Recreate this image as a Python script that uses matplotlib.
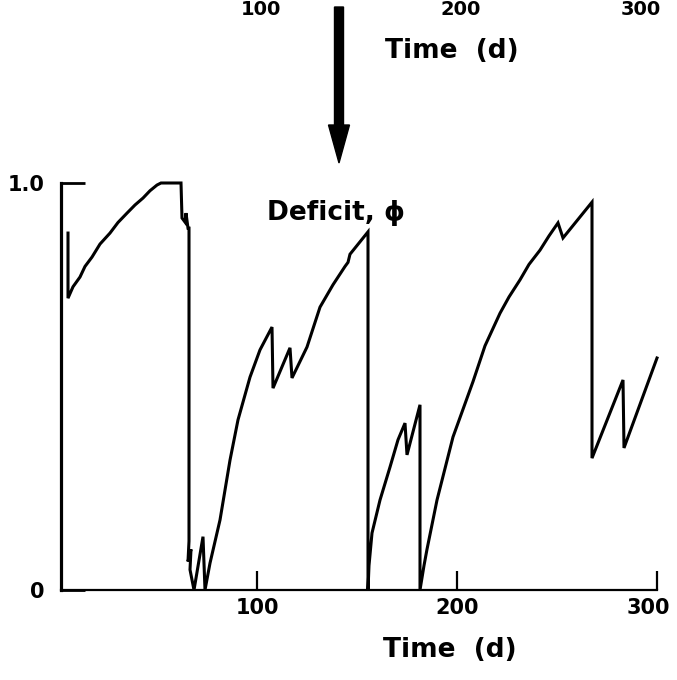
import matplotlib
matplotlib.use("Agg")
import matplotlib.pyplot as plt
from matplotlib.patches import FancyArrow
from matplotlib.transforms import blended_transform_factory, ScaledTranslation

# deficit trace (time in days, deficit 0..1)
time_d = [5.5, 5.5, 8, 11.5, 14, 17.5, 21.5, 26.5, 30.5, 35,
          39, 43, 46.5, 50, 52, 62, 62.5, 64, 64.5, 65.5,
          66, 66, 65.5, 67, 66.5, 68.5, 73, 74, 76.5, 81.5,
          86.5, 90.5, 96.5, 101.5, 107.5, 108, 116.5, 117.5, 125, 131.5,
          138, 144, 145.5, 146.5, 155.5, 155.5, 156, 157.5, 161.5, 166.5,
          170.5, 174, 175, 181.5, 181.5, 183.5, 185, 190, 198, 208,
          214, 221.5, 226, 231.5, 236, 241.5, 246, 250.5, 253, 267.5,
          267.5, 283, 283.5, 300]
deficit = [0.877, 0.717, 0.745, 0.769, 0.795, 0.818, 0.85, 0.877, 0.903, 0.926,
           0.946, 0.963, 0.981, 0.995, 1.0, 1.0, 0.914, 0.904, 0.926, 0.889,
           0.889, 0.12, 0.07, 0.10, 0.05, 0.0, 0.131, 0.0, 0.066, 0.172,
           0.319, 0.418, 0.523, 0.59, 0.646, 0.496, 0.595, 0.521, 0.597, 0.695,
           0.75, 0.795, 0.805, 0.825, 0.88, 0.0, 0.06, 0.14, 0.221, 0.302,
           0.369, 0.41, 0.332, 0.455, 0.0, 0.06, 0.10, 0.221, 0.376, 0.512,
           0.60, 0.68, 0.72, 0.762, 0.80, 0.835, 0.87, 0.902, 0.865, 0.953,
           0.324, 0.516, 0.349, 0.57]

x_ticks = [100, 200, 300]
x_labels = ["100", "200", "300"]
y_ticks = [0, 1.0]
y_labels = ["0", "1.0"]

plt.rcParams["font.family"] = ["DejaVu Sans"]
plt.rcParams["font.weight"] = "bold"

fig = plt.figure(figsize=(6.77, 6.8), dpi=100)
ax = fig.add_axes([61 / 677, 90 / 680, 596 / 677, 407 / 680])

ax.plot(time_d, deficit, color="black", lw=2.2, clip_on=False,
        solid_joinstyle="miter")

ax.set_xlim(2, 300)
ax.set_ylim(0, 1)
for side in ("top", "right"):
    ax.spines[side].set_visible(False)
ax.spines["left"].set_linewidth(2.3)
ax.spines["bottom"].set_linewidth(1.6)

ax.set_xticks(x_ticks)
ax.set_xticklabels(x_labels, fontsize=15, fontweight="bold")
ax.set_yticks(y_ticks)
ax.set_yticklabels(y_labels, fontsize=15, fontweight="bold")
ax.tick_params(axis="x", direction="in", length=14, width=1.6, pad=6)
ax.tick_params(axis="y", direction="in", length=17, width=2.0, pad=12)

# last label sits a little left of its tick in the scan, keep it on the page
last = ax.get_xticklabels()[-1]
last.set_transform(last.get_transform() + ScaledTranslation(-0.09, 0, fig.dpi_scale_trans))

ax.set_xlabel("Time  (d)", fontsize=19, fontweight="bold")
ax.xaxis.set_label_coords(196.5, -0.115,
                          transform=blended_transform_factory(ax.transData, ax.transAxes))

ax.text(105, 0.926, "Deficit, \u03d5", fontsize=19, fontweight="bold",
        ha="left", va="center")

# remains of the panel above (tick labels, axis title) and the arrow
top = blended_transform_factory(ax.transData, fig.transFigure)
for xt, lab in zip(x_ticks, x_labels):
    ax.text(xt + 2, 1 - 15 / 680, lab, transform=top, fontsize=14,
            fontweight="bold", ha="right" if xt == 300 else "center",
            va="baseline")
ax.text(197.5, 1 - 58 / 680, "Time  (d)", transform=top, fontsize=19,
        fontweight="bold", ha="center", va="baseline")

arrow = FancyArrow(3.39, 6.73, 0, -1.56, width=0.09, head_width=0.21,
                   head_length=0.38, length_includes_head=True,
                   transform=fig.dpi_scale_trans, color="black")
fig.add_artist(arrow)

fig.savefig("out.png", dpi=100)
